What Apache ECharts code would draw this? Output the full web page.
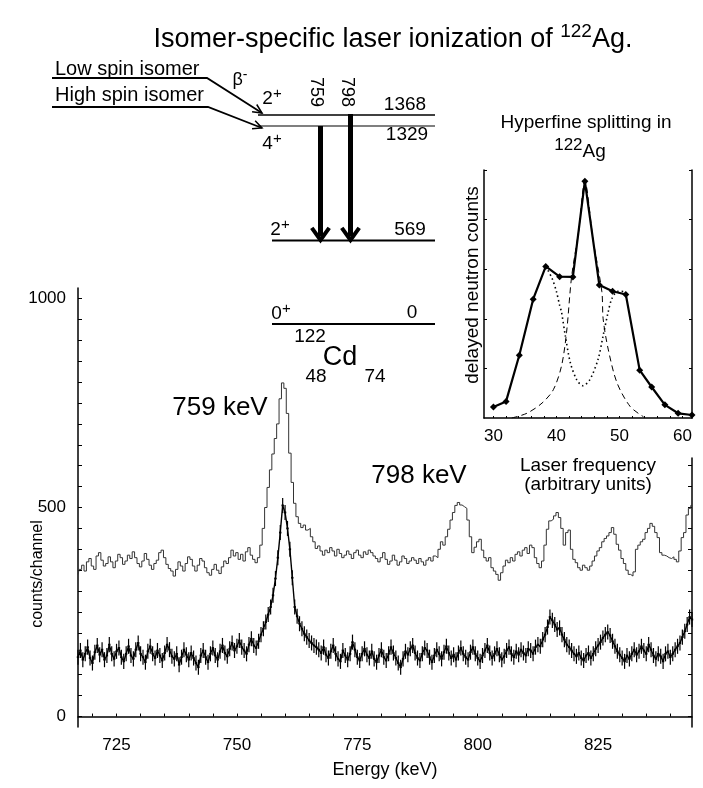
<!DOCTYPE html>
<html><head><meta charset="utf-8">
<script src="https://cdn.jsdelivr.net/npm/echarts@6/dist/echarts.min.js"></script>
<style>html,body{margin:0;padding:0;background:#fff}#c{width:703px;height:788px}</style>
</head><body><div id="c"></div>
<script>
// ---------- data ----------
const E0 = 717, STEP = 0.5;            // channel energies (keV)
const upperCounts = [
340,352,362,348,370,378,360,352,384,392,374,360,366,382,370,356,372,388,380,364,
372,386,378,394,380,366,358,372,390,376,362,352,366,374,392,398,380,364,354,348,
336,352,370,360,348,366,382,376,360,348,362,378,372,356,344,338,352,364,350,342,
358,372,366,380,398,384,392,376,388,372,394,404,386,376,368,380,410,450,500,548,
590,628,665,700,760,798,785,725,630,560,510,478,462,452,458,446,450,430,418,402,
408,396,386,398,392,404,396,384,400,390,380,386,396,388,378,392,398,386,380,394,
388,398,392,384,378,370,380,392,376,364,372,386,374,362,370,384,378,366,372,380,
374,366,378,370,362,374,380,372,384,380,400,418,410,430,448,470,488,505,512,506,
502,498,470,430,392,405,418,424,398,380,372,380,356,348,340,326,344,360,374,368,
380,372,388,394,384,398,404,390,410,404,380,366,356,372,410,448,468,472,480,488,
476,450,410,440,446,400,376,368,356,350,362,356,350,360,372,384,396,404,418,426,
432,440,452,436,412,398,378,366,350,340,336,346,400,410,418,424,440,450,462,455,
440,428,392,386,384,380,378,382,376,370,396,428,440,482,498,505];
const lowerCounts = [
142,158,136,150,166,140,128,154,170,148,160,136,146,172,150,138,156,164,142,132,
150,168,146,138,160,176,150,142,130,156,168,150,140,158,146,134,152,172,160,144,
138,150,124,142,160,148,136,152,140,128,118,146,158,142,130,150,164,146,136,156,
170,152,144,162,176,158,168,182,166,158,150,172,186,170,164,180,196,210,226,244,
262,290,330,380,440,505,488,450,400,332,262,240,222,210,198,190,182,176,170,166,
160,152,166,148,140,156,170,150,138,132,158,146,136,150,178,160,142,134,150,162,
148,140,156,138,130,146,160,142,134,150,166,152,140,128,118,138,156,148,162,170,
152,140,134,150,164,158,142,130,146,160,150,138,154,168,152,140,148,136,152,164,
150,142,136,154,166,150,140,132,146,158,170,152,140,150,162,148,136,144,158,166,
150,142,156,148,160,152,146,162,158,150,166,172,168,184,196,214,238,230,220,208,
212,196,184,172,166,158,150,144,152,140,134,146,152,140,150,162,170,178,188,196,
202,194,180,168,156,148,140,132,146,138,150,160,148,156,168,158,150,172,160,146,
138,150,144,132,150,156,142,150,160,168,176,190,204,220,238,232];
const ERR = 18;                         // error-bar half height (counts)
const energyTicks = [725, 750, 775, 800, 825];
const countTicks = [0, 500, 1000];
const freqTicks = [30, 40, 50, 60];

const hfFreq   = [30.0,32.0,34.1,36.3,38.3,40.5,42.6,44.5,46.8,48.9,51.0,53.2,55.1,57.2,59.3,61.5];
const hfCounts = [4.4,6.7,25.3,47.9,61.1,57.0,56.9,95.5,53.6,51.1,49.8,19.3,12.5,5.3,1.9,1.2];
const hfCentralX = [32.9,35.3,37.7,39.5,40.8,41.6,42.4,43.5,44.5,45.8,47.2,47.4,48.2,49.6,51.7,53.8];
const hfCentralY = [0,1.9,6.0,11.4,21.0,34.6,57.0,75.0,95.5,72.0,50.9,40.0,27.8,14.2,4.6,0.5];
const hfOuterX = [38.3,39.3,40.0,40.5,40.8,41.4,42.2,43.2,44.2,45.3,46.6,47.4,48.2,48.8,49.8,50.6];
const hfOuterY = [61.1,56.3,50.9,45.4,42.7,33.2,22.3,15.5,13.0,15.5,23.7,33.2,42.7,48.2,51.1,51.0];

// ---------- build ----------
const chan = i => E0 + STEP * i;
const upperData = upperCounts.map((v, i) => [chan(i), v]);
const lowerData = lowerCounts.map((v, i) => [chan(i), v]);
const hfData = hfFreq.map((f, i) => [f, hfCounts[i]]);
const hfCentral = hfCentralX.map((f, i) => [f, hfCentralY[i]]);
const hfOuter = hfOuterX.map((f, i) => [f, hfOuterY[i]]);
const range = (a, b, s) => { const r = []; for (let v = a; v <= b + 1e-9; v += s) r.push(v); return r; };

const FF = '"Liberation Sans", Arial, Helvetica, sans-serif';
const BLACK = '#000';

function txt(text, x, y, size, o) {
  o = o || {};
  return { type: 'text', x: x, y: y, rotation: o.rot || 0, z: 100,
    style: { text: text, fontSize: size, fontFamily: FF, fill: BLACK,
      align: o.align || 'center', verticalAlign: o.va || 'middle', rich: o.rich } };
}
function supTxt(base, sup, x, y, size, supSize, o) {
  o = o || {};
  return txt('{b|' + base + '}{s|' + sup + '}', x, y, size, {
    align: o.align, va: o.va,
    rich: { b: { fontSize: size, fontFamily: FF, lineHeight: Math.round(size * 1.15), verticalAlign: 'bottom' },
            s: { fontSize: supSize, fontFamily: FF, lineHeight: Math.round(supSize * 1.05), verticalAlign: 'top' } } });
}
function line(x1, y1, x2, y2, lw) {
  return { type: 'line', z: 90, shape: { x1: x1, y1: y1, x2: x2, y2: y2 }, style: { stroke: BLACK, lineWidth: lw || 1.5 } };
}
function poly(points, lw) {
  return { type: 'polyline', z: 90, shape: { points: points }, style: { stroke: BLACK, lineWidth: lw || 1.5, fill: null } };
}
function head(x1, y1, x2, y2, len, ang, lw) {
  const a = Math.atan2(y2 - y1, x2 - x1);
  return poly([[x2 - len * Math.cos(a - ang), y2 - len * Math.sin(a - ang)], [x2, y2],
               [x2 - len * Math.cos(a + ang), y2 - len * Math.sin(a + ang)]], lw);
}

const graphics = [
  // title
  txt('{b|Isomer-specific laser ionization of }{s|122}{b|Ag.}', 393, 38, 27, {
    rich: { b: { fontSize: 27, fontFamily: FF, lineHeight: 31, verticalAlign: 'bottom' },
            s: { fontSize: 19, fontFamily: FF, lineHeight: 19, verticalAlign: 'top' } } }),
  // level scheme
  txt('Low spin isomer', 55, 69, 20, { align: 'left' }),
  txt('High spin isomer', 55, 95, 20, { align: 'left' }),
  poly([[52, 78], [207, 78], [262, 113]], 1.8),
  head(207, 78, 262, 113, 10, 0.45, 1.5),
  poly([[52, 107], [208, 107], [262, 128]], 1.8),
  head(208, 107, 262, 128, 10, 0.45, 1.5),
  supTxt('β', '-', 240, 79, 18, 14),
  line(258, 115, 435, 115, 1.5),
  line(258, 126, 435, 126, 1.2),
  line(272, 240.5, 435, 240.5, 1.8),
  line(272, 324, 435, 324, 1.8),
  supTxt('2', '+', 272, 97, 19, 15),
  supTxt('4', '+', 272, 142, 19, 15),
  supTxt('2', '+', 280, 228, 19, 15),
  supTxt('0', '+', 281, 312, 19, 15),
  txt('759', 316, 92, 18, { rot: -Math.PI / 2 }),
  txt('798', 347, 92, 18, { rot: -Math.PI / 2 }),
  txt('1368', 405, 105, 19),
  txt('1329', 407, 135, 19),
  txt('569', 410, 230, 19),
  txt('0', 412, 313, 19),
  line(320.5, 126, 320.5, 236, 5),
  head(320.5, 126, 320.5, 240, 15, 0.62, 4),
  line(350.5, 114, 350.5, 236, 5),
  head(350.5, 114, 350.5, 240, 15, 0.62, 4),
  txt('122', 310, 337, 19),
  txt('Cd', 340, 358, 27),
  txt('48', 316, 377, 19),
  txt('74', 375, 377, 19),
  // peak labels
  txt('759 keV', 220, 408, 26),
  txt('798 keV', 419, 476, 26),
  // axis names
  txt('counts/channel', 38, 574, 16, { rot: Math.PI / 2 }),
  txt('delayed neutron counts', 473, 285, 19, { rot: Math.PI / 2 }),
  // inset title
  txt('Hyperfine splitting in', 586, 123, 19),
  txt('{s|122}{b|Ag}', 580, 149, 19, {
    rich: { b: { fontSize: 19, fontFamily: FF, lineHeight: 24, verticalAlign: 'bottom' },
            s: { fontSize: 17, fontFamily: FF, lineHeight: 17, verticalAlign: 'top' } } })
];

const axisLineS = { show: true, lineStyle: { color: BLACK, width: 1.5 } };
const plain = v => String(v);
const option = {
  animation: false,
  backgroundColor: '#fff',
  grid: [
    { left: 78, right: 11, top: 288, bottom: 61 },
    { left: 78, right: 11, top: 458, bottom: 61 },
    { left: 484, right: 11, top: 170, bottom: 370 }
  ],
  xAxis: [
    { gridIndex: 0, type: 'value', min: 717, max: 844.5, axisLine: axisLineS,
      axisTick: { show: true, inside: true, length: 3, customValues: range(720, 840, 5), lineStyle: { color: BLACK } },
      axisLabel: { customValues: energyTicks, formatter: plain, fontSize: 17, fontFamily: FF, color: BLACK, margin: 10 },
      splitLine: { show: false },
      name: 'Energy (keV)', nameLocation: 'middle', nameGap: 34,
      nameTextStyle: { fontSize: 18, fontFamily: FF, color: BLACK } },
    { gridIndex: 1, type: 'value', min: 717, max: 844.5, show: false },
    { gridIndex: 2, type: 'value', min: 28.5, max: 61.5, axisLine: axisLineS,
      axisTick: { show: true, inside: true, length: 2, customValues: range(30, 60, 2), lineStyle: { color: BLACK } },
      axisLabel: { customValues: freqTicks, formatter: plain, fontSize: 17, fontFamily: FF, color: BLACK, margin: 10 },
      splitLine: { show: false },
      name: 'Laser frequency\n(arbitrary units)', nameLocation: 'middle', nameGap: 38,
      nameTextStyle: { fontSize: 19, fontFamily: FF, color: BLACK, lineHeight: 19, verticalAlign: 'top' } }
  ],
  yAxis: [
    { gridIndex: 0, type: 'value', min: -25, max: 1025, axisLine: axisLineS,
      axisTick: { show: true, inside: true, length: 4, customValues: range(0, 1000, 50), lineStyle: { color: BLACK } },
      axisLabel: { customValues: countTicks, formatter: plain, fontSize: 17, fontFamily: FF, color: BLACK, margin: 12 },
      splitLine: { show: false } },
    { gridIndex: 1, type: 'value', position: 'right', min: -25, max: 618.4, axisLine: axisLineS,
      axisTick: { show: true, inside: true, length: 4, customValues: range(0, 600, 50), lineStyle: { color: BLACK } },
      axisLabel: { show: false }, splitLine: { show: false } },
    { gridIndex: 2, type: 'value', min: 0, max: 100, axisLine: axisLineS,
      axisTick: { show: true, inside: true, length: 3, customValues: range(20, 100, 20), lineStyle: { color: BLACK } },
      axisLabel: { show: false }, splitLine: { show: false } },
    { gridIndex: 2, type: 'value', position: 'right', min: 0, max: 100, axisLine: axisLineS,
      axisTick: { show: true, inside: true, length: 3, customValues: range(20, 100, 20), lineStyle: { color: BLACK } },
      axisLabel: { show: false }, splitLine: { show: false } }
  ],
  series: [
    { type: 'line', xAxisIndex: 0, yAxisIndex: 0, data: upperData, step: 'middle', showSymbol: false,
      lineStyle: { color: '#333', width: 1 }, z: 3 },
    { type: 'line', xAxisIndex: 0, yAxisIndex: 0, data: lowerData, showSymbol: false,
      lineStyle: { color: BLACK, width: 1.4 }, z: 3 },
    { type: 'custom', xAxisIndex: 0, yAxisIndex: 0, data: lowerData, z: 4,
      renderItem: function (params, api) {
        const x = api.value(0), y = api.value(1);
        const t = api.coord([x, y + ERR]), b = api.coord([x, y - ERR]);
        const l = api.coord([x - STEP / 2, y]), r = api.coord([x + STEP / 2, y]);
        return { type: 'group', children: [
          { type: 'line', shape: { x1: t[0], y1: t[1], x2: b[0], y2: b[1] }, style: { stroke: BLACK, lineWidth: 1.2 } },
          { type: 'line', shape: { x1: l[0], y1: l[1], x2: r[0], y2: r[1] }, style: { stroke: BLACK, lineWidth: 1.8 } }
        ] };
      } },
    { type: 'line', xAxisIndex: 2, yAxisIndex: 2, data: hfOuter, showSymbol: false, smooth: 0.3,
      lineStyle: { color: BLACK, width: 1.6, type: [1.5, 3] }, z: 2 },
    { type: 'line', xAxisIndex: 2, yAxisIndex: 2, data: hfCentral, showSymbol: false, smooth: 0.3,
      lineStyle: { color: BLACK, width: 1, type: [6, 4] }, z: 2 },
    { type: 'line', xAxisIndex: 2, yAxisIndex: 2, data: hfData, symbol: 'diamond', symbolSize: 7,
      itemStyle: { color: BLACK }, lineStyle: { color: BLACK, width: 2.2 }, z: 5 }
  ],
  graphic: { elements: graphics }
};
const chart = echarts.init(document.getElementById('c'), null, { renderer: 'canvas' });
chart.setOption(option);
</script></body></html>
